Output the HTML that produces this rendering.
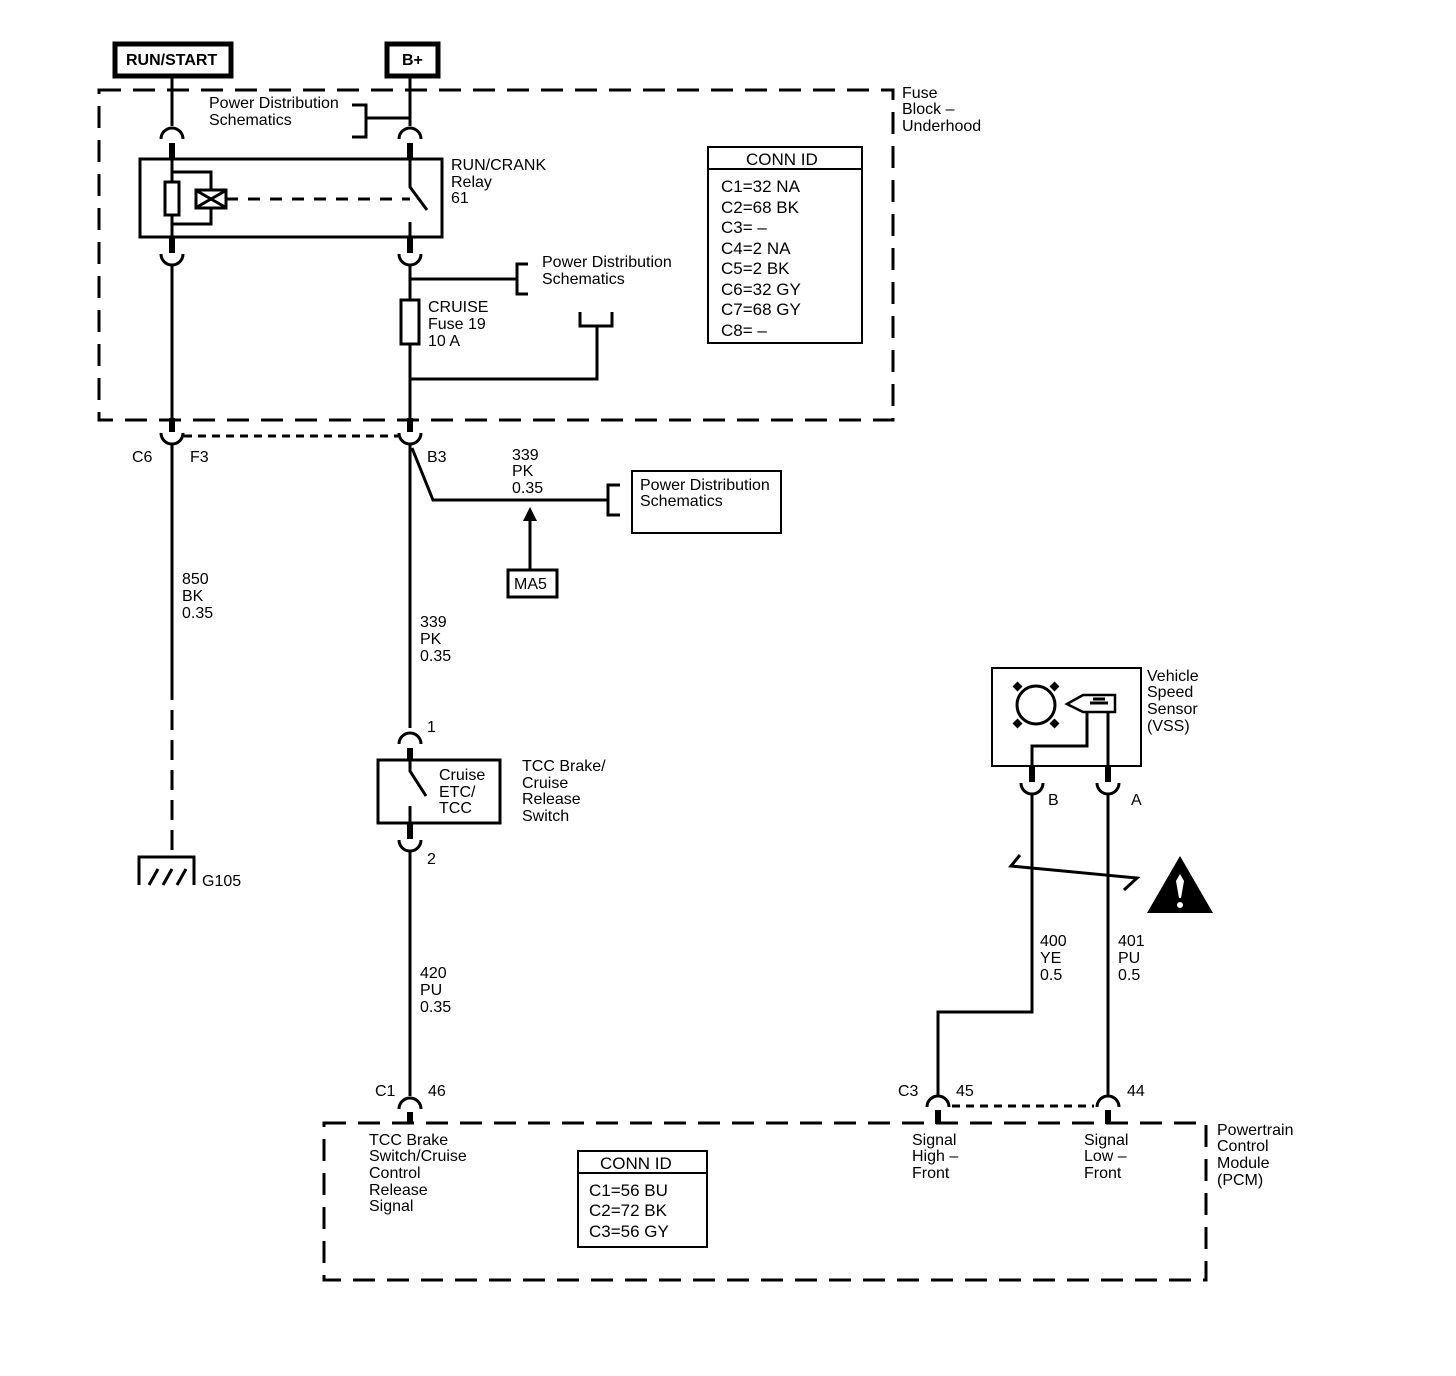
<!DOCTYPE html>
<html><head><meta charset="utf-8"><style>
html,body{margin:0;padding:0;background:#fff}
svg{display:block}
text{font-family:"Liberation Sans",Arial,sans-serif;font-size:16px;fill:#000}
.c{font-size:17px}
</style></head><body>
<svg width="1456" height="1376" viewBox="0 0 1456 1376" xmlns="http://www.w3.org/2000/svg">
<g fill="none" stroke="#000" stroke-width="3">
<rect x="115" y="44" width="116" height="32" stroke-width="5"/>
<rect x="387" y="44" width="51" height="32" stroke-width="5"/>
<rect x="99" y="90" width="794" height="330" stroke-dasharray="22,12"/>
<line x1="172" y1="78" x2="172" y2="126"/>
<path d="M161,139 A11,11 0 0 1 183,139"/>
<line x1="172" y1="143" x2="172" y2="158" stroke-width="6"/>
<line x1="410" y1="78" x2="410" y2="126"/>
<path d="M399,139 A11,11 0 0 1 421,139"/>
<line x1="410" y1="143" x2="410" y2="158" stroke-width="6"/>
<line x1="365" y1="118" x2="410" y2="118"/>
<path d="M352,105 H366 V137 H352"/>
<rect x="140" y="159" width="302" height="78"/>
<line x1="172" y1="159" x2="172" y2="237" stroke-width="3"/>
<rect x="165" y="182" width="14" height="33" fill="#fff"/>
<path d="M172,172 H211 V224 H172"/>
<rect x="196" y="190" width="30" height="18" fill="#fff"/>
<path d="M197,191 L225,207 M197,207 L225,191" stroke-width="3"/>
<line x1="226" y1="199" x2="410" y2="199" stroke-dasharray="12,10"/>
<path d="M410,159 V187 L427,210"/>
<line x1="410" y1="222" x2="410" y2="237"/>
<line x1="172" y1="237" x2="172" y2="253" stroke-width="6"/>
<path d="M161,254 A11,11 0 0 0 183,254"/>
<line x1="410" y1="237" x2="410" y2="253" stroke-width="6"/>
<path d="M399,254 A11,11 0 0 0 421,254"/>
<line x1="172" y1="265" x2="172" y2="424"/>
<line x1="410" y1="265" x2="410" y2="424"/>
<line x1="410" y1="279" x2="517" y2="279"/>
<path d="M528,264 H517 V294 H528"/>
<rect x="401" y="300" width="18" height="44" fill="#fff"/>
<path d="M410,379 H597 V326 M580,312 V326 H612 V312"/>
<rect x="708" y="147" width="154" height="196" stroke-width="2"/>
<line x1="708" y1="169" x2="862" y2="169" stroke-width="2"/>
<line x1="172" y1="418" x2="172" y2="432" stroke-width="6"/>
<path d="M161,433 A11,11 0 0 0 183,433"/>
<line x1="410" y1="418" x2="410" y2="432" stroke-width="6"/>
<path d="M399,433 A11,11 0 0 0 421,433"/>
<line x1="184" y1="436" x2="398" y2="436" stroke-dasharray="8,6"/>
<line x1="172" y1="444" x2="172" y2="680"/>
<line x1="172" y1="680" x2="172" y2="855" stroke-dasharray="20,10"/>
<path d="M139,885 V857 H194 V885 M149,885 L158,869 M163,885 L172,869 M177,885 L186,869"/>
<line x1="410" y1="444" x2="410" y2="728"/>
<path d="M412,448 L433,500 H608"/>
<path d="M620,485 H608 V515 H620"/>
<rect x="632" y="471" width="149" height="62" stroke-width="2"/>
<line x1="530" y1="569" x2="530" y2="518"/>
<rect x="508" y="570" width="49" height="27" stroke-width="3"/>
<path d="M399,744 A11,11 0 0 1 421,744"/>
<line x1="410" y1="748" x2="410" y2="760" stroke-width="6"/>
<rect x="378" y="760" width="122" height="63"/>
<path d="M410,760 V771 L426,796"/>
<line x1="410" y1="806" x2="410" y2="823"/>
<line x1="410" y1="823" x2="410" y2="839" stroke-width="6"/>
<path d="M399,840 A11,11 0 0 0 421,840"/>
<line x1="410" y1="851" x2="410" y2="1096"/>
<path d="M399,1109 A11,11 0 0 1 421,1109"/>
<line x1="410" y1="1112" x2="410" y2="1124" stroke-width="6"/>
<rect x="324" y="1123" width="882" height="157" stroke-dasharray="22,12"/>
<rect x="578" y="1151" width="129" height="96" stroke-width="2"/>
<line x1="578" y1="1173" x2="707" y2="1173" stroke-width="2"/>
<rect x="992" y="668" width="149" height="98" stroke-width="2"/>
<circle cx="1036" cy="705" r="19"/>
<path d="M1020,689 l-5,-5 M1052,689 l5,-5 M1020,721 l-5,5 M1052,721 l5,5" stroke-width="7"/>
<path d="M1067,704 L1083,695 H1115 V712 H1083 Z" stroke-width="2.5"/>
<path d="M1090,703 h18 M1093,699 h12" stroke-width="3"/>
<path d="M1087,712 V746 H1032 V766 M1108,712 V766"/>
<line x1="1032" y1="766" x2="1032" y2="782" stroke-width="6"/>
<line x1="1108" y1="766" x2="1108" y2="782" stroke-width="6"/>
<path d="M1021,783 A11,11 0 0 0 1043,783"/>
<path d="M1097,783 A11,11 0 0 0 1119,783"/>
<path d="M1032,795 V1012 H938 V1096"/>
<line x1="1108" y1="795" x2="1108" y2="1096"/>
<path d="M927,1107 A11,11 0 0 1 949,1107"/>
<path d="M1097,1107 A11,11 0 0 1 1119,1107"/>
<line x1="938" y1="1110" x2="938" y2="1124" stroke-width="6"/>
<line x1="1108" y1="1110" x2="1108" y2="1124" stroke-width="6"/>
<line x1="952" y1="1106" x2="1094" y2="1106" stroke-dasharray="8,6"/>
<path d="M1020,855 L1011,866 L1137,878 L1124,890" stroke-width="3"/>
</g>
<polygon points="1180,856 1147,913 1213,913" fill="#000"/>
<path d="M1180,874 l-4,7 l3,17 h2 l3,-17 z" fill="#fff"/>
<circle cx="1180" cy="905" r="3" fill="#fff"/>
<polygon points="530,507 523,521 537,521" fill="#000"/>

<text x="126" y="65" font-weight="bold" font-size="16">RUN/START</text>
<text x="402" y="65" font-weight="bold" font-size="16">B+</text>
<text x="209" y="108">Power Distribution</text>
<text x="209" y="125">Schematics</text>
<text x="902" y="98">Fuse</text>
<text x="902" y="114">Block –</text>
<text x="902" y="131">Underhood</text>
<text x="451" y="170">RUN/CRANK</text>
<text x="451" y="187">Relay</text>
<text x="451" y="203">61</text>
<text x="542" y="267">Power Distribution</text>
<text x="542" y="284">Schematics</text>
<text x="428" y="312">CRUISE</text>
<text x="428" y="329">Fuse 19</text>
<text x="428" y="346">10 A</text>
<text x="746" y="165" class="c">CONN ID</text>
<text x="721" y="192" class="c">C1=32 NA</text>
<text x="721" y="213" class="c">C2=68 BK</text>
<text x="721" y="233" class="c">C3= –</text>
<text x="721" y="254" class="c">C4=2 NA</text>
<text x="721" y="274" class="c">C5=2 BK</text>
<text x="721" y="295" class="c">C6=32 GY</text>
<text x="721" y="315" class="c">C7=68 GY</text>
<text x="721" y="336" class="c">C8= –</text>
<text x="132" y="462">C6</text>
<text x="190" y="462">F3</text>
<text x="427" y="462">B3</text>
<text x="512" y="460">339</text>
<text x="512" y="476">PK</text>
<text x="512" y="493">0.35</text>
<text x="640" y="490">Power Distribution</text>
<text x="640" y="506">Schematics</text>
<text x="514" y="589">MA5</text>
<text x="182" y="584">850</text>
<text x="182" y="601">BK</text>
<text x="182" y="618">0.35</text>
<text x="420" y="627">339</text>
<text x="420" y="644">PK</text>
<text x="420" y="661">0.35</text>
<text x="427" y="732">1</text>
<text x="439" y="780">Cruise</text>
<text x="439" y="797">ETC/</text>
<text x="439" y="813">TCC</text>
<text x="522" y="771">TCC Brake/</text>
<text x="522" y="788">Cruise</text>
<text x="522" y="804">Release</text>
<text x="522" y="821">Switch</text>
<text x="427" y="864">2</text>
<text x="202" y="886">G105</text>
<text x="420" y="978">420</text>
<text x="420" y="995">PU</text>
<text x="420" y="1012">0.35</text>
<text x="1147" y="681">Vehicle</text>
<text x="1147" y="697">Speed</text>
<text x="1147" y="714">Sensor</text>
<text x="1147" y="731">(VSS)</text>
<text x="1048" y="805">B</text>
<text x="1131" y="805">A</text>
<text x="1040" y="946">400</text>
<text x="1040" y="963">YE</text>
<text x="1040" y="980">0.5</text>
<text x="1118" y="946">401</text>
<text x="1118" y="963">PU</text>
<text x="1118" y="980">0.5</text>
<text x="375" y="1096">C1</text>
<text x="428" y="1096">46</text>
<text x="898" y="1096">C3</text>
<text x="956" y="1096">45</text>
<text x="1127" y="1096">44</text>
<text x="369" y="1145">TCC Brake</text>
<text x="369" y="1161">Switch/Cruise</text>
<text x="369" y="1178">Control</text>
<text x="369" y="1195">Release</text>
<text x="369" y="1211">Signal</text>
<text x="600" y="1169" class="c">CONN ID</text>
<text x="589" y="1196" class="c">C1=56 BU</text>
<text x="589" y="1216" class="c">C2=72 BK</text>
<text x="589" y="1237" class="c">C3=56 GY</text>
<text x="912" y="1145">Signal</text>
<text x="912" y="1161">High –</text>
<text x="912" y="1178">Front</text>
<text x="1084" y="1145">Signal</text>
<text x="1084" y="1161">Low –</text>
<text x="1084" y="1178">Front</text>
<text x="1217" y="1135">Powertrain</text>
<text x="1217" y="1151">Control</text>
<text x="1217" y="1168">Module</text>
<text x="1217" y="1185">(PCM)</text>
</svg>
</body></html>
